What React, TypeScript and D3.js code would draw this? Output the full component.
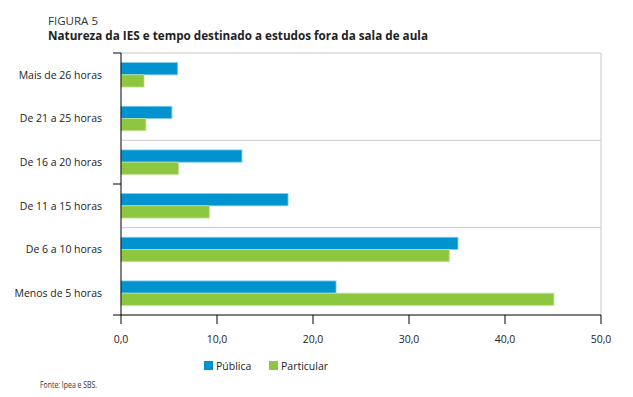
import * as d3 from 'd3';

const categories = [
  'Mais de 26 horas',
  'De 21 a 25 horas',
  'De 16 a 20 horas',
  'De 11 a 15 horas',
  'De 6 a 10 horas',
  'Menos de 5 horas',
];
const seriesNames = ['Pública', 'Particular'];
const publica = [5.9, 5.3, 12.6, 17.4, 35.1, 22.4];
const particular = [2.4, 2.6, 6.0, 9.2, 34.2, 45.1];
const xTicks = [0, 10, 20, 30, 40, 50];

const colors = ['#0093cf', '#8dc63f'];
const edges = ['#7fcbe9', '#c4e39d'];

const W = 633;
const H = 397;
const plot = { left: 121, right: 601, top: 53, bottom: 315 };

const App = () => {
  const x = d3.scaleLinear().domain([0, 50]).range([plot.left, plot.right]);
  const y = d3
    .scaleBand<string>()
    .domain(categories)
    .range([plot.top, plot.bottom])
    .paddingInner(0.44)
    .paddingOuter(0.22);
  const ySub = d3.scaleBand<string>().domain(seriesNames).range([0, y.bandwidth()]);
  const values = [publica, particular];
  const fmt = (v: number) => d3.format('.1f')(v).replace('.', ',');
  const boundary = (k: number) => plot.top + k * y.step();
  const font = "'Open Sans', sans-serif";

  return (
    <svg width={W} height={H} style={{ position: 'absolute', left: 0, top: 0, background: '#fff' }}>
      <text x={48} y={25} fontFamily={font} fontSize={11.5} fontWeight={400} fill="#333"
        textLength={50} lengthAdjust="spacingAndGlyphs">FIGURA 5</text>
      <text x={48} y={40} fontFamily={font} fontSize={12.5} fontWeight={700} fill="#222"
        textLength={380} lengthAdjust="spacingAndGlyphs">
        Natureza da IES e tempo destinado a estudos fora da sala de aula
      </text>

      {/* frame and grid */}
      <line x1={plot.left} x2={plot.right} y1={plot.top} y2={plot.top} stroke="#c8c8c8" />
      <line x1={plot.right} x2={plot.right} y1={plot.top} y2={plot.bottom} stroke="#c8c8c8" />
      {[2, 4].map((k) => (
        <line key={k} x1={plot.left} x2={plot.right} y1={boundary(k)} y2={boundary(k)} stroke="#c8c8c8" />
      ))}

      {/* bars */}
      {categories.map((c, i) =>
        seriesNames.map((s, j) => (
          <rect key={c + s} x={x(0)} y={(y(c) ?? 0) + (ySub(s) ?? 0)}
            width={x(values[j][i]) - x(0)} height={ySub.bandwidth()}
            fill={colors[j]} stroke={edges[j]} strokeWidth={0.8} />
        ))
      )}

      {/* axes */}
      <line x1={plot.left} x2={plot.left} y1={plot.top} y2={plot.bottom} stroke="#000" />
      {[0, 3, 6].map((k) => (
        <line key={k} x1={plot.left - 8} x2={plot.left} y1={boundary(k)} y2={boundary(k)} stroke="#000" />
      ))}
      <line x1={plot.left} x2={plot.right} y1={plot.bottom} y2={plot.bottom} stroke="#000" />
      {xTicks.map((t) => (
        <g key={t}>
          <line x1={x(t)} x2={x(t)} y1={plot.bottom} y2={plot.bottom + 9} stroke="#000" />
          <text x={x(t)} y={343} textAnchor="middle" fontFamily={font} fontSize={10.5} fill="#222">
            {fmt(t)}
          </text>
        </g>
      ))}
      {categories.map((c) => (
        <text key={c} x={102} y={(y(c) ?? 0) + y.bandwidth() / 2} dy="0.35em" textAnchor="end"
          fontFamily={font} fontSize={10.5} fill="#222">{c}</text>
      ))}

      {/* legend */}
      {seriesNames.map((s, j) => (
        <g key={s} transform={`translate(${j === 0 ? 204 : 269},361)`}>
          <rect width={9} height={9} fill={colors[j]} />
          <text x={12} y={8.5} fontFamily={font} fontSize={10.5} fill="#222">{s}</text>
        </g>
      ))}

      <text x={40} y={388} fontFamily={font} fontSize={8.5} fill="#333"
        textLength={57} lengthAdjust="spacingAndGlyphs">Fonte: Ipea e SBS.</text>
    </svg>
  );
};

export default App;
